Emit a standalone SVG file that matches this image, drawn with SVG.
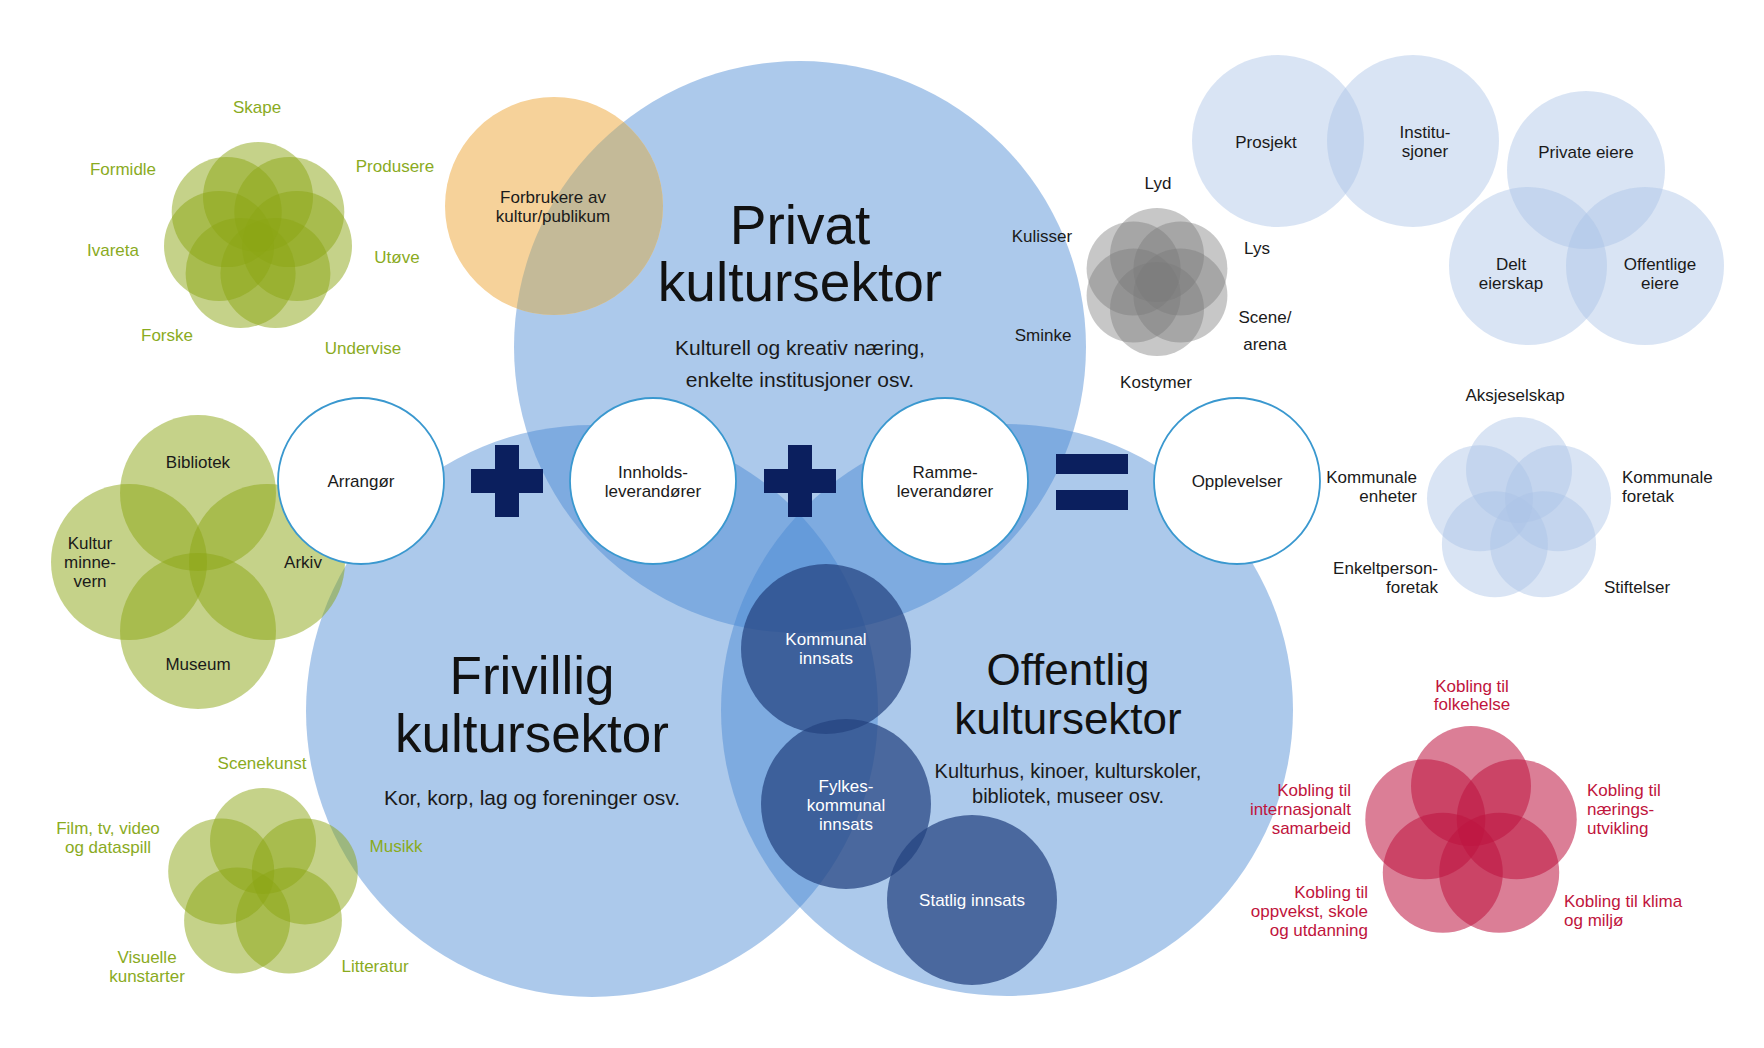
<svg xmlns="http://www.w3.org/2000/svg" width="1764" height="1048" viewBox="0 0 1764 1048">
<defs>
<style>
text{font-family:"Liberation Sans",Arial,Helvetica,sans-serif;}
.main{fill:#4687d2;fill-opacity:0.45;}
.dark{fill:#24437f;fill-opacity:0.72;}
.green{fill:#8ca514;fill-opacity:0.5;}
.gray{fill:#7a7a7a;fill-opacity:0.42;}
.lb{fill:#aac3e6;fill-opacity:0.45;}
.red{fill:#be1440;fill-opacity:0.55;}
.white{fill:#ffffff;stroke:#3a98cf;stroke-width:1.8;}
.op{fill:#0b1f5e;}
.t{font-size:17px;fill:#1a1a1a;text-anchor:middle;}
.tw{font-size:17px;fill:#ffffff;text-anchor:middle;}
.tg{font-size:17px;fill:#8aab1e;text-anchor:middle;}
.tr{font-size:17px;fill:#c0143c;}
.title{font-size:55px;fill:#111111;text-anchor:middle;}
.title1{font-size:53px;fill:#111111;text-anchor:middle;}
.title2{font-size:44px;fill:#111111;text-anchor:middle;}
.sub{font-size:21px;fill:#1a1a1a;text-anchor:middle;}
.sub2{font-size:20px;fill:#1a1a1a;text-anchor:middle;}
.e{text-anchor:end;}
.s{text-anchor:start;}
</style>
<clipPath id="clipPrivat"><circle cx="800" cy="347" r="286"/></clipPath>
</defs>
<rect width="1764" height="1048" fill="#ffffff"/>

<g id="sector-privat">
<circle class="main" cx="800" cy="347" r="286"/>
</g>
<g id="sector-frivillig">
<circle class="main" cx="592" cy="711" r="286"/>
</g>
<g id="sector-offentlig">
<circle class="main" cx="1007" cy="710" r="286"/>
</g>

<g id="publikum">
<circle cx="554" cy="206" r="109" fill="#f6d29a"/>
<circle cx="554" cy="206" r="109" fill="#c4ba98" clip-path="url(#clipPrivat)"/>
<text class="t" x="553" y="203">Forbrukere av</text>
<text class="t" x="553" y="222">kultur/publikum</text>
</g>

<g id="innsats">
<g id="kommunal"><circle class="dark" cx="826" cy="649" r="85"/></g>
<g id="fylkeskommunal"><circle class="dark" cx="846" cy="804" r="85"/></g>
<g id="statlig"><circle class="dark" cx="972" cy="900" r="85"/></g>
</g>

<g id="flower-roller">
<circle class="green" cx="258" cy="197" r="55"/>
<circle class="green" cx="289.3" cy="212.1" r="55"/>
<circle class="green" cx="297" cy="245.9" r="55"/>
<circle class="green" cx="275.4" cy="273" r="55"/>
<circle class="green" cx="240.6" cy="273" r="55"/>
<circle class="green" cx="219" cy="245.9" r="55"/>
<circle class="green" cx="226.7" cy="212.1" r="55"/>
<text class="tg" x="257" y="113">Skape</text>
<text class="tg" x="395" y="172">Produsere</text>
<text class="tg" x="397" y="263">Utøve</text>
<text class="tg" x="363" y="354">Undervise</text>
<text class="tg" x="167" y="341">Forske</text>
<text class="tg" x="113" y="256">Ivareta</text>
<text class="tg" x="123" y="175">Formidle</text>
</g>

<g id="flower-institusjoner">
<circle class="green" cx="198" cy="493" r="78"/>
<circle class="green" cx="198" cy="631" r="78"/>
<circle class="green" cx="129" cy="562" r="78"/>
<circle class="green" cx="267" cy="562" r="78"/>
<text class="t" x="198" y="468">Bibliotek</text>
<text class="t" x="198" y="670">Museum</text>
<text class="t" x="90" y="549">Kultur</text>
<text class="t" x="90" y="568">minne-</text>
<text class="t" x="90" y="587">vern</text>
<text class="t" x="303" y="568">Arkiv</text>
</g>

<g id="flower-kunstarter">
<circle class="green" cx="263" cy="841" r="53"/>
<circle class="green" cx="304.8" cy="871.4" r="53"/>
<circle class="green" cx="288.9" cy="920.6" r="53"/>
<circle class="green" cx="237.1" cy="920.6" r="53"/>
<circle class="green" cx="221.2" cy="871.4" r="53"/>
<text class="tg" x="262" y="769">Scenekunst</text>
<text class="tg" x="108" y="834">Film, tv, video</text>
<text class="tg" x="108" y="853">og dataspill</text>
<text class="tg" x="396" y="852">Musikk</text>
<text class="tg" x="147" y="963">Visuelle</text>
<text class="tg" x="147" y="982">kunstarter</text>
<text class="tg" x="375" y="972">Litteratur</text>
</g>

<g id="arrangor">
<circle class="white" cx="361" cy="481" r="83"/>
<text class="t" x="361" y="487">Arrangør</text>
</g>
<g id="innholdsleverandorer">
<circle class="white" cx="653" cy="481" r="83"/>
<text class="t" x="653" y="478">Innholds-</text>
<text class="t" x="653" y="497">leverandører</text>
</g>
<g id="rammeleverandorer">
<circle class="white" cx="945" cy="481" r="83"/>
<text class="t" x="945" y="478">Ramme-</text>
<text class="t" x="945" y="497">leverandører</text>
</g>
<g id="opplevelser">
<circle class="white" cx="1237" cy="481" r="83"/>
<text class="t" x="1237" y="487">Opplevelser</text>
</g>

<g id="connectors">
<path class="op" d="M495 445h24v24h24v24h-24v24h-24v-24h-24v-24h24z"/>
<path class="op" d="M788 445h24v24h24v24h-24v24h-24v-24h-24v-24h24z"/>
<rect class="op" x="1056" y="454" width="72" height="20"/>
<rect class="op" x="1056" y="490" width="72" height="20"/>
</g>

<g id="flower-teknikk">
<circle class="gray" cx="1157" cy="255" r="47"/>
<circle class="gray" cx="1180.4" cy="268.5" r="47"/>
<circle class="gray" cx="1180.4" cy="295.5" r="47"/>
<circle class="gray" cx="1157" cy="309" r="47"/>
<circle class="gray" cx="1133.6" cy="295.5" r="47"/>
<circle class="gray" cx="1133.6" cy="268.5" r="47"/>
<text class="t" x="1158" y="189">Lyd</text>
<text class="t" x="1042" y="242">Kulisser</text>
<text class="t" x="1257" y="254">Lys</text>
<text class="t" x="1265" y="323">Scene/</text>
<text class="t" x="1265" y="350">arena</text>
<text class="t" x="1043" y="341">Sminke</text>
<text class="t" x="1156" y="388">Kostymer</text>
</g>

<g id="prosjekt-institusjoner">
<circle class="lb" cx="1278" cy="141" r="86"/>
<circle class="lb" cx="1413" cy="141" r="86"/>
<text class="t" x="1266" y="148">Prosjekt</text>
<text class="t" x="1425" y="138">Institu-</text>
<text class="t" x="1425" y="157">sjoner</text>
</g>

<g id="eierskap">
<circle class="lb" cx="1586" cy="170" r="79"/>
<circle class="lb" cx="1528" cy="266" r="79"/>
<circle class="lb" cx="1645" cy="266" r="79"/>
<text class="t" x="1586" y="158">Private eiere</text>
<text class="t" x="1511" y="270">Delt</text>
<text class="t" x="1511" y="289">eierskap</text>
<text class="t" x="1660" y="270">Offentlige</text>
<text class="t" x="1660" y="289">eiere</text>
</g>

<g id="organisasjonsformer">
<circle class="lb" cx="1519" cy="470" r="53"/>
<circle class="lb" cx="1558" cy="498.3" r="53"/>
<circle class="lb" cx="1543.1" cy="544.2" r="53"/>
<circle class="lb" cx="1494.9" cy="544.2" r="53"/>
<circle class="lb" cx="1480" cy="498.3" r="53"/>
<text class="t" x="1515" y="401">Aksjeselskap</text>
<text class="t e" x="1417" y="483">Kommunale</text>
<text class="t e" x="1417" y="502">enheter</text>
<text class="t s" x="1622" y="483">Kommunale</text>
<text class="t s" x="1622" y="502">foretak</text>
<text class="t e" x="1438" y="574">Enkeltperson-</text>
<text class="t e" x="1438" y="593">foretak</text>
<text class="t s" x="1604" y="593">Stiftelser</text>
</g>

<g id="koblinger">
<circle class="red" cx="1471" cy="786" r="60"/>
<circle class="red" cx="1516.7" cy="819.2" r="60"/>
<circle class="red" cx="1499.2" cy="872.8" r="60"/>
<circle class="red" cx="1442.8" cy="872.8" r="60"/>
<circle class="red" cx="1425.3" cy="819.2" r="60"/>
<text class="tr" x="1472" y="692" text-anchor="middle">Kobling til</text>
<text class="tr" x="1472" y="710" text-anchor="middle">folkehelse</text>
<text class="tr" x="1351" y="796" text-anchor="end">Kobling til</text>
<text class="tr" x="1351" y="815" text-anchor="end">internasjonalt</text>
<text class="tr" x="1351" y="834" text-anchor="end">samarbeid</text>
<text class="tr" x="1587" y="796">Kobling til</text>
<text class="tr" x="1587" y="815">nærings-</text>
<text class="tr" x="1587" y="834">utvikling</text>
<text class="tr" x="1368" y="898" text-anchor="end">Kobling til</text>
<text class="tr" x="1368" y="917" text-anchor="end">oppvekst, skole</text>
<text class="tr" x="1368" y="936" text-anchor="end">og utdanning</text>
<text class="tr" x="1564" y="907">Kobling til klima</text>
<text class="tr" x="1564" y="926">og miljø</text>
</g>

<g id="labels-sektorer">
<text class="title" x="800" y="244">Privat</text>
<text class="title" x="800" y="301">kultursektor</text>
<text class="sub" x="800" y="355">Kulturell og kreativ næring,</text>
<text class="sub" x="800" y="387">enkelte institusjoner osv.</text>
<text class="title1" x="532" y="694">Frivillig</text>
<text class="title1" x="532" y="752">kultursektor</text>
<text class="sub" x="532" y="805">Kor, korp, lag og foreninger osv.</text>
<text class="title2" x="1068" y="685">Offentlig</text>
<text class="title2" x="1068" y="734">kultursektor</text>
<text class="sub2" x="1068" y="778">Kulturhus, kinoer, kulturskoler,</text>
<text class="sub2" x="1068" y="803">bibliotek, museer osv.</text>
</g>

<g id="labels-innsats">
<text class="tw" x="826" y="645">Kommunal</text>
<text class="tw" x="826" y="664">innsats</text>
<text class="tw" x="846" y="792">Fylkes-</text>
<text class="tw" x="846" y="811">kommunal</text>
<text class="tw" x="846" y="830">innsats</text>
<text class="tw" x="972" y="906">Statlig innsats</text>
</g>
</svg>
